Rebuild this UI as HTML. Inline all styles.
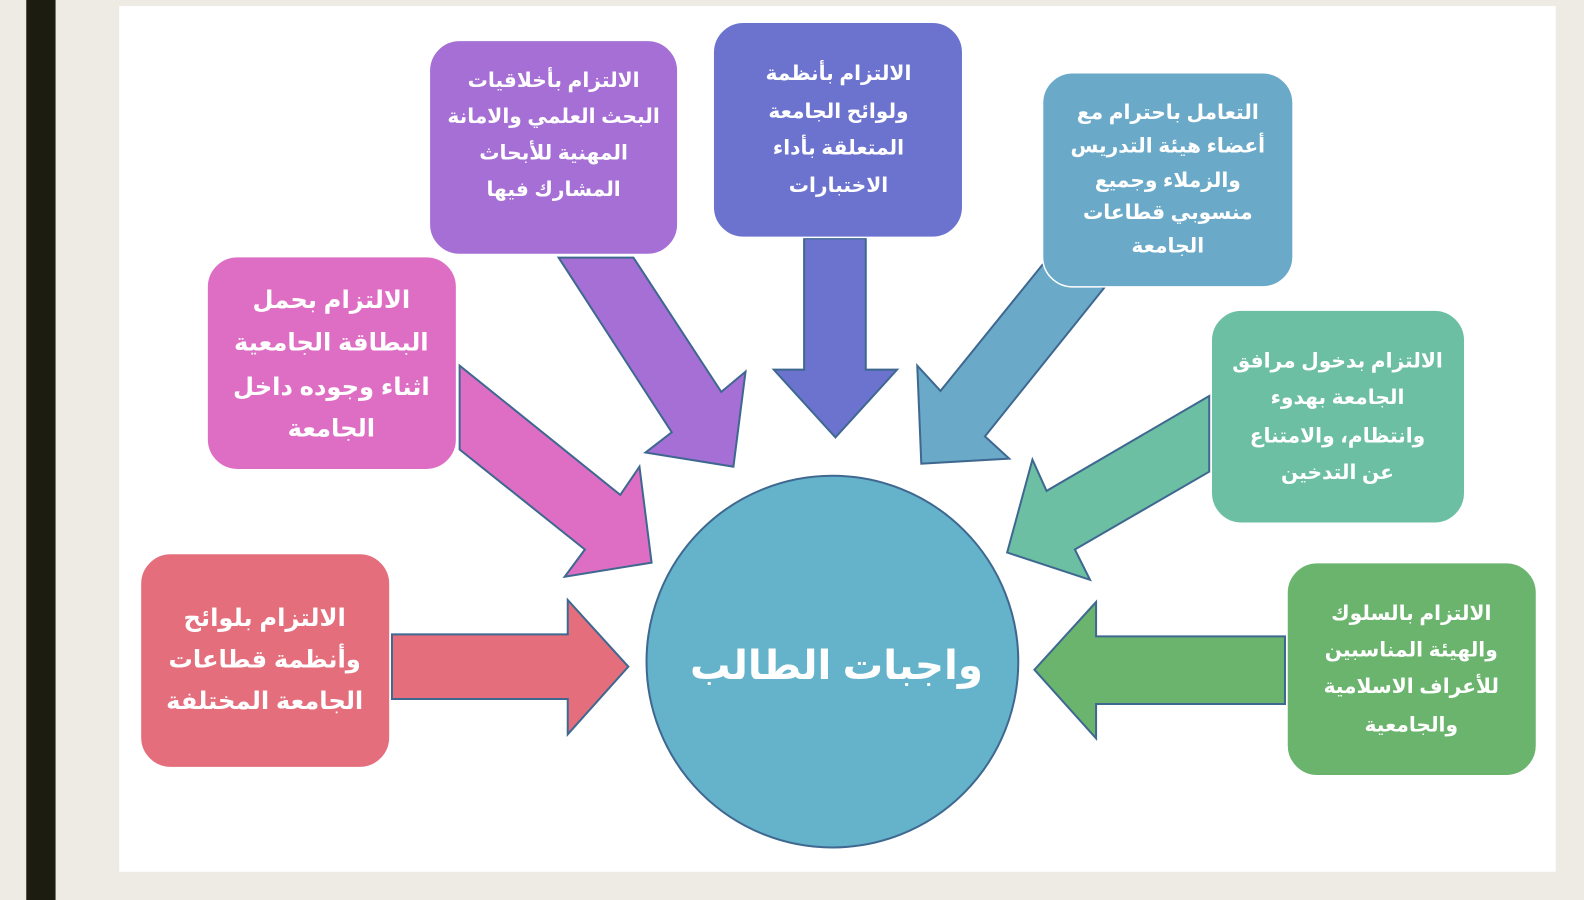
<!DOCTYPE html>
<html><head><meta charset="utf-8"><style>
html,body{margin:0;padding:0;width:1584px;height:900px;overflow:hidden;background:#eeebe4;}
svg{position:absolute;left:0;top:0;}
text{font-family:"Liberation Sans","DejaVu Sans","Noto Sans CJK SC",sans-serif;font-weight:bold;fill:#fff;text-anchor:middle;}
</style></head><body>
<svg width="1584" height="900" viewBox="0 0 1568 891" preserveAspectRatio="none">
<rect x="26" y="0" width="29" height="891" fill="#1c1c10"/>
<rect x="118" y="6" width="1422" height="857" fill="#fff"/>
<g stroke="#3f6891" stroke-width="2" stroke-linejoin="miter">
<polygon fill="#e46e7c" points="388,628 562,628 562,594 622,660 562,727 562,692 388,692"/>
<polygon fill="#6ab46d" points="1272,630 1085,630 1085,596 1024,663 1085,731 1085,697 1272,697"/>
<polygon fill="#6b73cf" points="796,236 857,236 857,366 888,366 827,433 766,366 796,366"/>
<polygon fill="#a66fd6" points="553,255 627,255 714,388 738,368 726,462 639,448 665,428"/>
<polygon fill="#6aaac8" points="1032,262 1093,285 975,432 999,454 912,459 908,362 931,387"/>
<polygon fill="#de6ec4" points="455,362 614,490 633,462 645,557 559,571 579,544 455,445"/>
<polygon fill="#6dbfa3" points="1197,392 1036,486 1022,455 997,547 1079,574 1064,544 1197,467"/>
<circle cx="824" cy="655" r="184" fill="#64b3ca"/>
</g>
<g stroke="#fff" stroke-width="1.5">
<rect x="425" y="40" width="246" height="212" rx="30" fill="#a66fd6"/>
<rect x="706" y="22" width="247" height="213" rx="30" fill="#6b73cf"/>
<rect x="1032" y="72" width="248" height="212" rx="30" fill="#6aaac8"/>
<rect x="205" y="254" width="247" height="211" rx="30" fill="#de6ec4"/>
<rect x="1199" y="307" width="251" height="211" rx="30" fill="#6dbfa3"/>
<rect x="139" y="548" width="247" height="212" rx="30" fill="#e46e7c"/>
<rect x="1274" y="557" width="247" height="211" rx="30" fill="#6ab46d"/>
</g>
<g font-size="20">
<text x="548" y="86">الالتزام بأخلاقيات</text>
<text x="548" y="122">البحث العلمي والامانة</text>
<text x="548" y="158">المهنية للأبحاث</text>
<text x="548" y="194">المشارك فيها</text>
<text x="830" y="79">الالتزام بأنظمة</text>
<text x="830" y="117">ولوائح الجامعة</text>
<text x="830" y="153">المتعلقة بأداء</text>
<text x="830" y="190">الاختبارات</text>
<text x="1156" y="118">التعامل باحترام مع</text>
<text x="1156" y="151">أعضاء هيئة التدريس</text>
<text x="1156" y="185">والزملاء وجميع</text>
<text x="1156" y="217">منسوبي قطاعات</text>
<text x="1156" y="250">الجامعة</text>
<text x="1324" y="364">الالتزام بدخول مرافق</text>
<text x="1324" y="400">الجامعة بهدوء</text>
<text x="1324" y="438">وانتظام، والامتناع</text>
<text x="1324" y="474">عن التدخين</text>
<text x="1397" y="614">الالتزام بالسلوك</text>
<text x="1397" y="650">والهيئة المناسبين</text>
<text x="1397" y="686">للأعراف الاسلامية</text>
<text x="1397" y="724">والجامعية</text>
</g>
<g font-size="24">
<text x="328" y="305">الالتزام بحمل</text>
<text x="328" y="347">البطاقة الجامعية</text>
<text x="328" y="391">اثناء وجوده داخل</text>
<text x="328" y="432">الجامعة</text>
<text x="262" y="620">الالتزام بلوائح</text>
<text x="262" y="661">وأنظمة قطاعات</text>
<text x="262" y="702">الجامعة المختلفة</text>
</g>
<text x="828" y="672" font-size="40">واجبات الطالب</text>
</svg>
</body></html>
